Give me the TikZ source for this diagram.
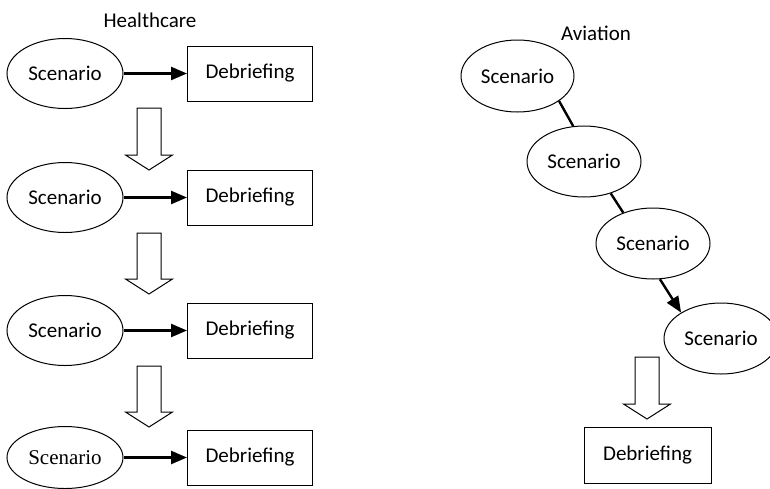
\documentclass[tikz,border=0pt]{standalone}
\usepackage{fontspec}
\setmainfont{Carlito}
\newfontfamily\timesfont{Liberation Serif}
\usetikzlibrary{arrows.meta,shapes.geometric}
% hollow down arrow: x, top, tip
\newcommand{\blockdown}[3]{%
  \draw[line width=1pt] (#1-12,#2) -- (#1+12,#2) -- (#1+12,#3-15) -- (#1+23.5,#3-15)
    -- (#1,#3) -- (#1-23.5,#3-15) -- (#1-12,#3-15) -- cycle;}

\begin{document}
\begin{tikzpicture}[x=1pt,y=-1pt,
  font=\fontsize{21}{25}\selectfont,
  scen/.style={ellipse, draw, line width=1pt, minimum width=116pt, minimum height=70pt, inner sep=0pt},
  debrief/.style={rectangle, draw, line width=1pt, minimum width=125pt, minimum height=55pt, inner sep=0pt},
  flow/.style={line width=2.4pt, -{Triangle[length=16pt,width=13pt]}},
  link/.style={line width=2.4pt}]
\useasboundingbox (0,0) rectangle (770,488);

% healthcare
\node (hlab) at (150,20){Healthcare};
\node[scen] (hs1) at (65,73.5){Scenario};
\node[debrief] (hd1) at (250,73.5){Debriefing};
\draw[flow](hs1) -- (hd1);
\blockdown{149}{108}{170}
\node[scen] (hs2) at (65,197.5){Scenario};
\node[debrief] (hd2) at (250,197.5){Debriefing};
\draw[flow](hs2) -- (hd2);
\blockdown{149}{233}{294}
\node[scen] (hs3) at (65,330.5){Scenario};
\node[debrief] (hd3) at (250,330.5){Debriefing};
\draw[flow](hs3) -- (hd3);
\blockdown{149}{366}{427}
\node[scen, minimum height=62pt] (hs4) at (65,457.5){\timesfont Scenario};
\node[debrief] (hd4) at (250,457.5){Debriefing};
\draw[flow](hs4) -- (hd4);

% aviation
\node (alab) at (596,33){Aviation};
\node[scen, minimum width=113pt, minimum height=72pt] (as1) at (517.5,76){Scenario};
\node[scen, minimum width=114pt, minimum height=71pt] (as2) at (584,161.5){Scenario};
\node[scen, minimum width=114pt, minimum height=71pt] (as3) at (653,243.5){Scenario};
\node[scen, minimum width=114pt, minimum height=71pt] (as4) at (721,338.5){Scenario};
\draw[link](as1.-31) -- (as2.107);
\draw[link](as2.-50) -- (as3.134);
\draw[flow](as3.-79) -- (as4.147);
\blockdown{647}{357}{419}
\node[debrief, minimum width=127pt, minimum height=56pt] (ad1) at (647.5,455){Debriefing};

\end{tikzpicture}
\end{document}
